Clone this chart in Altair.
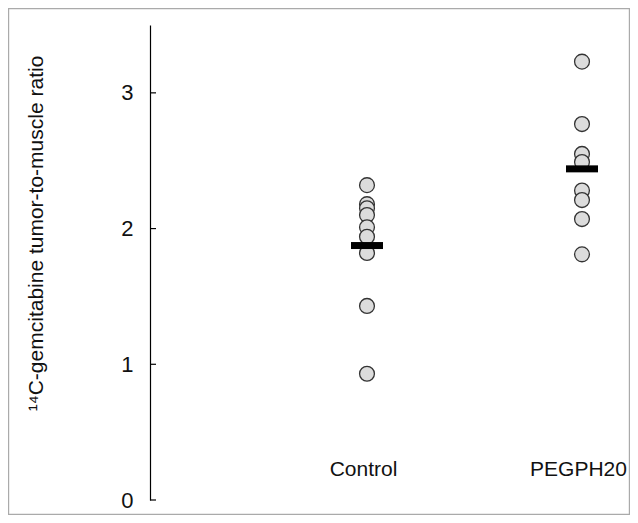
import altair as alt
import pandas as pd

groups = ["Control", "PEGPH20"]
control_values = [2.32, 2.18, 2.15, 2.10, 2.01, 1.94, 1.82, 1.43, 0.93]
pegph20_values = [3.23, 2.77, 2.55, 2.49, 2.28, 2.21, 2.07, 1.81]
means = [1.875, 2.44]
y_ticks = [0, 1, 2, 3]
y_title = "¹⁴C-gemcitabine tumor-to-muscle ratio"

pts = pd.DataFrame(
    {"group": ["Control"] * len(control_values) + ["PEGPH20"] * len(pegph20_values),
     "value": control_values + pegph20_values}
)
mean_df = pd.DataFrame({"group": groups, "value": means})
tick_df = pd.DataFrame({"value": y_ticks})

W, H = 460, 475
PL, PT, PR, PB = 142, 17, 20, 15

xscale = alt.Scale(type="point", domain=groups, range=[217, 432], padding=0)
yscale = alt.Scale(domain=[0, 3.5], nice=False)

x_enc = alt.X("group:N", scale=xscale,
              axis=alt.Axis(title=None, domain=False, ticks=False, labelAngle=0,
                            labelFontSize=21, labelColor="#111", labelFont="Liberation Sans",
                            offset=-42, labelPadding=0, labelOffset=-4))
y_enc = alt.Y("value:Q", scale=yscale,
              axis=alt.Axis(values=y_ticks, format="d", ticks=False, grid=False, domainColor="#000",
                            domainWidth=1.2, labelFontSize=22, labelColor="#111",
                            labelFont="Liberation Sans", labelPadding=17,
                            title=y_title, titleFontSize=21, titleFontWeight="normal",
                            titleFont="Liberation Sans", titleColor="#111",
                            titleX=-104, titleY=208))

points = alt.Chart(pts).mark_point(
    shape="circle", filled=True, size=220, fill="#dcdcdc", stroke="#333", strokeWidth=1.3, opacity=1
).encode(x=x_enc, y=y_enc)

mean_marks = alt.Chart(mean_df).mark_tick(
    orient="horizontal", color="#000", thickness=7, size=32, opacity=1
).encode(x=alt.X("group:N", scale=xscale),
         y=alt.Y("value:Q", scale=yscale))

ticks = alt.Chart(tick_df).mark_rule(color="#000", strokeWidth=1.2).encode(
    y=alt.Y("value:Q", scale=yscale), x=alt.value(0), x2=alt.value(6)
)

frame = alt.Chart(pd.DataFrame({"a": [0]})).mark_rect(
    fill="transparent", stroke="#aaaaaa", strokeWidth=1.2
).encode(
    x=alt.value(-PL + 0.6), x2=alt.value(W + PR - 0.6),
    y=alt.value(-PT + 0.6), y2=alt.value(H + PB - 0.6)
)

chart = alt.layer(points, mean_marks, ticks, frame).properties(
    width=W, height=H,
    padding={"left": PL, "top": PT, "right": PR, "bottom": PB},
    autosize=alt.AutoSizeParams(type="none"),
    background="white",
).configure_view(strokeWidth=0, stroke="transparent").configure_axisX(
    domain=False, ticks=False
)

chart.save("out.html", embed_options={"renderer": "svg", "actions": False})
